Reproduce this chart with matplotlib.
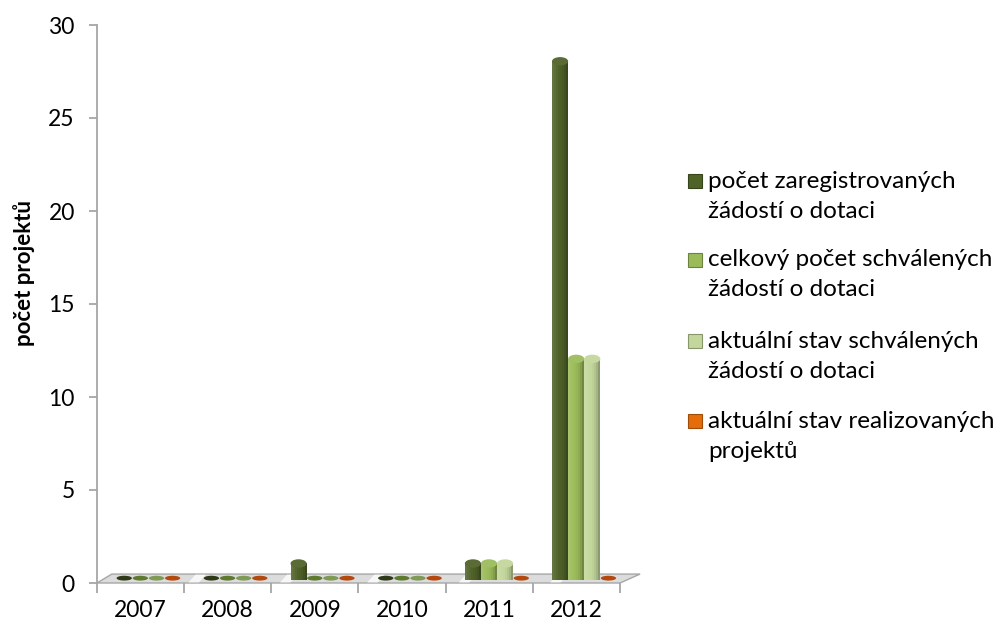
import matplotlib.pyplot as plt
from matplotlib.patches import Polygon, Ellipse, Rectangle
import matplotlib.colors as mcolors
import numpy as np

years = ['2007', '2008', '2009', '2010', '2011', '2012']
registered = [0, 0, 1, 0, 1, 28]
approved_total = [0, 0, 0, 0, 1, 12]
approved_now = [0, 0, 0, 0, 1, 12]
realized = [0, 0, 0, 0, 0, 0]

series = [registered, approved_total, approved_now, realized]
legend_lines = [
    ['počet zaregistrovaných', 'žádostí o dotaci'],
    ['celkový počet schválených', 'žádostí o dotaci'],
    ['aktuální stav schválených', 'žádostí o dotaci'],
    ['aktuální stav realizovaných', 'projektů'],
]
colors = ['#4F6228', '#9BBB59', '#C3D69B', '#E46C0A']
flat_colors = ['#2E3A17', '#5E7A2E', '#7E9A55', '#B5480C']

plt.rcParams['font.family'] = ['Lato', 'DejaVu Sans']

W, H = 1002, 627
fig = plt.figure(figsize=(W / 100, H / 100), dpi=100)
ax = fig.add_axes([97 / W, 44 / H, 523 / W, 558 / H])
ax.set_xlim(-0.5, 5.5)
ax.set_ylim(0, 30)

# floor of the 3d chart
floor = Polygon([(-0.5, 0), (5.5, 0), (5.73, 0.48), (-0.33, 0.48)],
                closed=True, facecolor='#DCDCDC', edgecolor='#A6A6A6',
                linewidth=1, clip_on=False, zorder=1)
ax.add_patch(floor)
# a few light streaks on the floor
for xs in [0.55, 1.6, 2.6, 3.65, 4.7]:
    ax.add_patch(Polygon([(xs, 0.03), (xs + 0.12, 0.03), (xs + 0.2, 0.45), (xs + 0.08, 0.45)],
                         closed=True, facecolor='white', edgecolor='none',
                         alpha=0.8, zorder=1))


def shade(c, f):
    r, g, b = mcolors.to_rgb(c)
    if f >= 1:
        return (r + (1 - r) * (f - 1), g + (1 - g) * (f - 1), b + (1 - b) * (f - 1))
    return (r * f, g * f, b * f)


w = 0.185
shift = 0.09
base = 0.15
profile = [1.12, 1.08, 1.04, 1.0, 0.97, 0.92, 0.84, 0.72]
n = len(profile)
cap_h = 0.45

for i, vals in enumerate(series):
    for c, v in enumerate(vals):
        xc = c + shift + (i - 1.5) * w
        if v == 0:
            ax.add_patch(Ellipse((xc, 0.26), w * 0.95, 0.26,
                                 facecolor=flat_colors[i], edgecolor='none', zorder=2))
            continue
        top = v + 0.05
        x0 = xc - w / 2
        for k, f in enumerate(profile):
            ax.bar(x0 + k * w / n, top - base, width=w / n * 1.02, bottom=base,
                   align='edge', color=shade(colors[i], f), linewidth=0, zorder=3)
        ax.add_patch(Ellipse((xc, top), w, cap_h, facecolor=shade(colors[i], 1.06),
                             edgecolor='none', zorder=4))

# axes styling
for s in ['top', 'right', 'bottom']:
    ax.spines[s].set_visible(False)
ax.spines['left'].set_color('#A6A6A6')
ax.spines['left'].set_linewidth(1.3)

ax.set_yticks(range(0, 31, 5))
ax.tick_params(axis='y', length=6, width=1.3, color='#A6A6A6', labelsize=16.5, pad=10)
ax.set_xticks(range(6))
ax.set_xticklabels(years)
ax.set_xticks(np.arange(-0.5, 6, 1), minor=True)
ax.tick_params(axis='x', which='major', length=0, labelsize=16.5, pad=12)
ax.tick_params(axis='x', which='minor', length=7, width=1.3, color='#A6A6A6')

ax.set_ylabel('počet projektů', fontsize=16, fontweight='bold')
ax.yaxis.set_label_coords(-0.118, 0.555)

# legend drawn by hand
first_y = [181, 260, 341, 421]
for i, lines in enumerate(legend_lines):
    y0 = first_y[i]
    fig.patches.append(Rectangle((688 / W, 1 - (y0 + 7) / H), 14 / W, 14 / H,
                                 transform=fig.transFigure, facecolor=colors[i],
                                 edgecolor=shade(colors[i], 0.7), linewidth=0.8))
    for j, line in enumerate(lines):
        fig.text(708 / W, 1 - (y0 + 30 * j) / H, line, fontsize=17.5,
                 va='center', ha='left')

fig.savefig('out.png', dpi=100)
